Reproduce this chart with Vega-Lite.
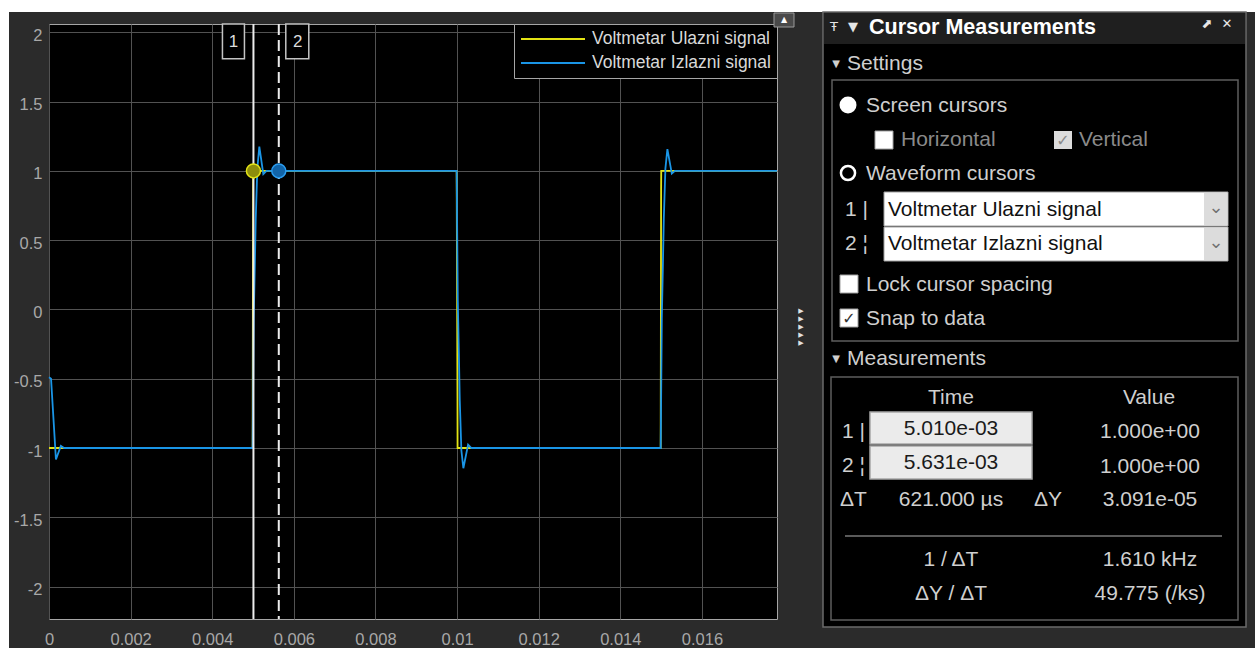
{
  "$schema": "https://vega.github.io/schema/vega-lite/v6.json",
  "background": "#2b2b2b",
  "padding": 0,
  "autosize": {"type": "pad"},
  "config": {"view": {"stroke": null}, "font": "Liberation Sans"},
  "spacing": 0,
  "bounds": "flush",
  "resolve": {"scale": {"color": "independent"}, "legend": {"color": "independent"}},
  "hconcat": [
    {
      "width": 9, "height": 648,
      "view": {"fill": "#ffffff", "stroke": null},
      "data": {"values": [{}]},
      "mark": {"type": "text", "text": ""},
      "encoding": {}
    },
    {
      "spacing": 12,
      "bounds": "flush",
      "resolve": {"scale": {"color": "independent"}, "legend": {"color": "independent"}},
      "vconcat": [
        {
          "width": 1246, "height": 12,
          "view": {"fill": "#ffffff", "stroke": null},
          "data": {"values": [{}]},
          "mark": {"type": "text", "text": ""},
          "encoding": {}
        },
        {
          "spacing": 39,
          "bounds": "flush",
          "resolve": {"scale": {"color": "independent"}, "legend": {"color": "independent"}},
          "hconcat": [
            {
              "width": 1, "height": 1,
              "view": {"stroke": null},
              "data": {"values": [{}]},
              "mark": {"type": "text", "text": ""},
              "encoding": {}
            },
            {
              "width": 728, "height": 595,
              "view": {"fill": "#000000", "stroke": "#a6a6a6", "strokeWidth": 1},
              "data": {"values": [
                {"signal": "Voltmetar Ulazni signal", "t": 0, "v": -1},
                {"signal": "Voltmetar Ulazni signal", "t": 0.00499, "v": -1},
                {"signal": "Voltmetar Ulazni signal", "t": 0.005, "v": 0.64},
                {"signal": "Voltmetar Ulazni signal", "t": 0.005003, "v": 1},
                {"signal": "Voltmetar Ulazni signal", "t": 0.00999, "v": 1},
                {"signal": "Voltmetar Ulazni signal", "t": 0.01001, "v": -0.64},
                {"signal": "Voltmetar Ulazni signal", "t": 0.010012, "v": -1},
                {"signal": "Voltmetar Ulazni signal", "t": 0.01499, "v": -1},
                {"signal": "Voltmetar Ulazni signal", "t": 0.015, "v": 0.87},
                {"signal": "Voltmetar Ulazni signal", "t": 0.015003, "v": 1},
                {"signal": "Voltmetar Ulazni signal", "t": 0.01784, "v": 1},
                {"signal": "Voltmetar Izlazni signal", "t": 0, "v": -0.49},
                {"signal": "Voltmetar Izlazni signal", "t": 0.00005, "v": -0.5},
                {"signal": "Voltmetar Izlazni signal", "t": 0.00017, "v": -1.083},
                {"signal": "Voltmetar Izlazni signal", "t": 0.00029, "v": -0.985},
                {"signal": "Voltmetar Izlazni signal", "t": 0.00037, "v": -1.0},
                {"signal": "Voltmetar Izlazni signal", "t": 0.00499, "v": -1.0},
                {"signal": "Voltmetar Izlazni signal", "t": 0.005017, "v": -0.067},
                {"signal": "Voltmetar Izlazni signal", "t": 0.005042, "v": 0.29},
                {"signal": "Voltmetar Izlazni signal", "t": 0.005066, "v": 0.655},
                {"signal": "Voltmetar Izlazni signal", "t": 0.005105, "v": 1.016},
                {"signal": "Voltmetar Izlazni signal", "t": 0.005154, "v": 1.175},
                {"signal": "Voltmetar Izlazni signal", "t": 0.005252, "v": 0.977},
                {"signal": "Voltmetar Izlazni signal", "t": 0.00533, "v": 1.0},
                {"signal": "Voltmetar Izlazni signal", "t": 0.00999, "v": 1.0},
                {"signal": "Voltmetar Izlazni signal", "t": 0.010017, "v": 0.067},
                {"signal": "Voltmetar Izlazni signal", "t": 0.010042, "v": -0.29},
                {"signal": "Voltmetar Izlazni signal", "t": 0.010066, "v": -0.655},
                {"signal": "Voltmetar Izlazni signal", "t": 0.010105, "v": -1.016},
                {"signal": "Voltmetar Izlazni signal", "t": 0.010154, "v": -1.146},
                {"signal": "Voltmetar Izlazni signal", "t": 0.01027, "v": -0.975},
                {"signal": "Voltmetar Izlazni signal", "t": 0.01035, "v": -1.0},
                {"signal": "Voltmetar Izlazni signal", "t": 0.01499, "v": -1.0},
                {"signal": "Voltmetar Izlazni signal", "t": 0.015017, "v": -0.067},
                {"signal": "Voltmetar Izlazni signal", "t": 0.015042, "v": 0.29},
                {"signal": "Voltmetar Izlazni signal", "t": 0.015066, "v": 0.655},
                {"signal": "Voltmetar Izlazni signal", "t": 0.015105, "v": 1.016},
                {"signal": "Voltmetar Izlazni signal", "t": 0.015154, "v": 1.157},
                {"signal": "Voltmetar Izlazni signal", "t": 0.015262, "v": 0.98},
                {"signal": "Voltmetar Izlazni signal", "t": 0.01534, "v": 1.0},
                {"signal": "Voltmetar Izlazni signal", "t": 0.01784, "v": 1.0}
              ]},
              "layer": [
                {
                  "transform": [{"filter": "datum.signal === 'Voltmetar Ulazni signal'"}],
                  "mark": {"type": "line", "strokeWidth": 1.8},
                  "encoding": {
                    "x": {"field": "t", "type": "quantitative",
                      "scale": {"domain": [0, 0.01784], "nice": false, "zero": false},
                      "axis": {"title": null, "values": [0, 0.002, 0.004, 0.006, 0.008, 0.01, 0.012, 0.014, 0.016],
                        "labelExpr": "toString(datum.value)", "grid": true, "gridColor": "#525252", "gridWidth": 1,
                        "domain": false, "ticks": false, "labelFlush": false, "labelOverlap": false,
                        "labelColor": "#a8a8a8", "labelFontSize": 16.5, "labelFont": "Liberation Sans", "labelPadding": 12}},
                    "y": {"field": "v", "type": "quantitative",
                      "scale": {"domain": [-2.234, 2.06], "nice": false, "zero": false},
                      "axis": {"title": null, "values": [-2, -1.5, -1, -0.5, 0, 0.5, 1, 1.5, 2],
                        "labelExpr": "toString(datum.value)", "grid": true, "gridColor": "#525252", "gridWidth": 1,
                        "domain": false, "ticks": false, "labelFlush": false, "labelOverlap": false,
                        "labelColor": "#a8a8a8", "labelFontSize": 16.5, "labelFont": "Liberation Sans", "labelPadding": 7, "labelOffset": 3}},
                    "color": {"field": "signal", "type": "nominal",
                      "scale": {"domain": ["Voltmetar Ulazni signal", "Voltmetar Izlazni signal"], "range": ["#e3e314", "#1a95e6"]},
                      "legend": {"title": null, "orient": "top-right", "offset": 0, "fillColor": "#000000", "strokeColor": "#a6a6a6",
                        "padding": 6, "symbolType": "M-4,0H4", "symbolSize": 256, "symbolOffset": 24, "symbolStrokeWidth": 1.8,
                        "labelFontSize": 17.5, "labelColor": "#d9d9d9", "labelFont": "Liberation Sans", "labelOffset": 30,
                        "labelLimit": 400, "rowPadding": 6}}
                  }
                },
                {
                  "transform": [{"filter": "datum.signal === 'Voltmetar Izlazni signal'"}],
                  "mark": {"type": "line", "strokeWidth": 1.8},
                  "encoding": {
                    "x": {"field": "t", "type": "quantitative"},
                    "y": {"field": "v", "type": "quantitative"},
                    "color": {"field": "signal", "type": "nominal"}
                  }
                },
                {
                  "data": {"values": [{"t": 0.00501}]},
                  "mark": {"type": "rule", "color": "#ececec", "strokeWidth": 2},
                  "encoding": {"x": {"field": "t", "type": "quantitative"}}
                },
                {
                  "data": {"values": [{"t": 0.005631}]},
                  "mark": {"type": "rule", "color": "#ececec", "strokeWidth": 2, "strokeDash": [11, 5]},
                  "encoding": {"x": {"field": "t", "type": "quantitative"}}
                },
                {
                  "data": {"values": [{"t": 0.00501, "v": 1.0}]},
                  "mark": {"type": "point", "shape": "circle", "size": 196, "fill": "#8d8d0c", "stroke": "#e3e314", "strokeWidth": 1.5, "fillOpacity": 1, "opacity": 1},
                  "encoding": {"x": {"field": "t", "type": "quantitative"}, "y": {"field": "v", "type": "quantitative"}}
                },
                {
                  "data": {"values": [{"t": 0.005631, "v": 1.0}]},
                  "mark": {"type": "point", "shape": "circle", "size": 196, "fill": "#1264a8", "stroke": "#2a9cf0", "strokeWidth": 1.5, "fillOpacity": 1, "opacity": 1},
                  "encoding": {"x": {"field": "t", "type": "quantitative"}, "y": {"field": "v", "type": "quantitative"}}
                },
                {
                  "data": {"values": [{"t": 0.00501, "label": "1"}]},
                  "mark": {"type": "rect", "fill": "#000000", "stroke": "#c4c4c4", "strokeWidth": 1.5, "xOffset": -31, "x2Offset": -9},
                  "encoding": {"x": {"field": "t", "type": "quantitative"}, "x2": {"field": "t"}, "y": {"datum": 2.06}, "y2": {"datum": 1.81}}
                },
                {
                  "data": {"values": [{"t": 0.005631, "label": "2"}]},
                  "mark": {"type": "rect", "fill": "#000000", "stroke": "#c4c4c4", "strokeWidth": 1.5, "xOffset": 7, "x2Offset": 30},
                  "encoding": {"x": {"field": "t", "type": "quantitative"}, "x2": {"field": "t"}, "y": {"datum": 2.06}, "y2": {"datum": 1.81}}
                },
                {
                  "data": {"values": [{"t": 0.00501, "label": "1"}]},
                  "mark": {"type": "text", "dx": -20, "fontSize": 17, "color": "#dcdcdc", "font": "Liberation Sans"},
                  "encoding": {"x": {"field": "t", "type": "quantitative"}, "y": {"datum": 1.93}, "text": {"field": "label"}}
                },
                {
                  "data": {"values": [{"t": 0.005631, "label": "2"}]},
                  "mark": {"type": "text", "dx": 19, "fontSize": 17, "color": "#dcdcdc", "font": "Liberation Sans"},
                  "encoding": {"x": {"field": "t", "type": "quantitative"}, "y": {"datum": 1.93}, "text": {"field": "label"}}
                }
              ]
            },
            {
              "width": 431, "height": 603,
              "view": {"stroke": null},
              "encoding": {
                "x": {"field": "x", "type": "quantitative", "scale": {"domain": [-6, 425], "nice": false, "zero": false}, "axis": null},
                "y": {"field": "y", "type": "quantitative", "scale": {"domain": [12, 615], "nice": false, "zero": false, "reverse": true}, "axis": null}
              },
              "layer": [
                {
                  "data": {"values": [{"x": 1, "x2": 424, "y": 0, "y2": 615}]},
                  "mark": {"type": "rect", "fill": "#000000", "stroke": "#6b6b6b", "strokeWidth": 1.5},
                  "encoding": {"x2": {"field": "x2"}, "y2": {"field": "y2"}}
                },
                {
                  "data": {"values": [{"x": 2, "x2": 423, "y": 1, "y2": 32}]},
                  "mark": {"type": "rect", "fill": "#1f1f1f"},
                  "encoding": {"x2": {"field": "x2"}, "y2": {"field": "y2"}}
                },
                {
                  "data": {"values": [{"x": 10, "x2": 416, "y": 68, "y2": 329}, {"x": 9, "x2": 416, "y": 365, "y2": 608}]},
                  "mark": {"type": "rect", "fill": "#000000", "stroke": "#5e5e5e", "strokeWidth": 1.5},
                  "encoding": {"x2": {"field": "x2"}, "y2": {"field": "y2"}}
                },
                {
                  "data": {"values": [
                    {"x": 62, "x2": 406, "y": 180, "y2": 214},
                    {"x": 62, "x2": 406, "y": 215, "y2": 249},
                    {"x": 18, "x2": 36, "y": 263, "y2": 281},
                    {"x": 18, "x2": 36, "y": 297, "y2": 315},
                    {"x": 53, "x2": 71, "y": 119, "y2": 137}
                  ]},
                  "mark": {"type": "rect", "fill": "#ffffff", "stroke": "#a0a0a0", "strokeWidth": 1},
                  "encoding": {"x2": {"field": "x2"}, "y2": {"field": "y2"}}
                },
                {
                  "data": {"values": [
                    {"x": 382, "x2": 405, "y": 181, "y2": 213},
                    {"x": 382, "x2": 405, "y": 216, "y2": 248},
                    {"x": 232, "x2": 250, "y": 119, "y2": 137}
                  ]},
                  "mark": {"type": "rect", "fill": "#dcdcdc"},
                  "encoding": {"x2": {"field": "x2"}, "y2": {"field": "y2"}}
                },
                {
                  "data": {"values": [
                    {"x": 48, "x2": 210, "y": 400, "y2": 432},
                    {"x": 48, "x2": 210, "y": 434, "y2": 467}
                  ]},
                  "mark": {"type": "rect", "fill": "#ebebeb", "stroke": "#a8a8a8", "strokeWidth": 1.5},
                  "encoding": {"x2": {"field": "x2"}, "y2": {"field": "y2"}}
                },
                {
                  "data": {"values": [{"x": 23, "x2": 400, "y": 524}]},
                  "mark": {"type": "rule", "color": "#b4b4b4", "strokeWidth": 1.2},
                  "encoding": {"x2": {"field": "x2"}}
                },
                {
                  "data": {"values": [{"x": 26, "y": 93}]},
                  "mark": {"type": "point", "shape": "circle", "size": 289, "filled": true, "color": "#ffffff", "opacity": 1}
                },
                {
                  "data": {"values": [{"x": 26, "y": 161}]},
                  "mark": {"type": "point", "shape": "circle", "size": 200, "filled": false, "color": "#ffffff", "strokeWidth": 2.5, "opacity": 1}
                },
                {
                  "data": {"values": [
                    {"x": 25, "y": 52, "label": "Settings"},
                    {"x": 44, "y": 94, "label": "Screen cursors"},
                    {"x": 44, "y": 162, "label": "Waveform cursors"},
                    {"x": 23, "y": 198, "label": "1 |"},
                    {"x": 23, "y": 232, "label": "2 ¦"},
                    {"x": 44, "y": 273, "label": "Lock cursor spacing"},
                    {"x": 44, "y": 307, "label": "Snap to data"},
                    {"x": 25, "y": 347, "label": "Measurements"},
                    {"x": 20, "y": 420, "label": "1 |"},
                    {"x": 20, "y": 454, "label": "2 ¦"},
                    {"x": 18, "y": 488, "label": "ΔT"},
                    {"x": 212, "y": 488, "label": "ΔY"}
                  ]},
                  "mark": {"type": "text", "align": "left", "baseline": "middle", "fontSize": 21, "color": "#cfcfcf", "font": "Liberation Sans"},
                  "encoding": {"text": {"field": "label"}}
                },
                {
                  "data": {"values": [
                    {"x": 129, "y": 386, "label": "Time"},
                    {"x": 327, "y": 386, "label": "Value"},
                    {"x": 328, "y": 420, "label": "1.000e+00"},
                    {"x": 328, "y": 455, "label": "1.000e+00"},
                    {"x": 129, "y": 488, "label": "621.000 µs"},
                    {"x": 328, "y": 488, "label": "3.091e-05"},
                    {"x": 129, "y": 548, "label": "1 / ΔT"},
                    {"x": 328, "y": 548, "label": "1.610 kHz"},
                    {"x": 129, "y": 582, "label": "ΔY / ΔT"},
                    {"x": 328, "y": 582, "label": "49.775 (/ks)"}
                  ]},
                  "mark": {"type": "text", "align": "center", "baseline": "middle", "fontSize": 21, "color": "#cfcfcf", "font": "Liberation Sans"},
                  "encoding": {"text": {"field": "label"}}
                },
                {
                  "data": {"values": [
                    {"x": 79, "y": 128, "label": "Horizontal"},
                    {"x": 257, "y": 128, "label": "Vertical"}
                  ]},
                  "mark": {"type": "text", "align": "left", "baseline": "middle", "fontSize": 21, "color": "#8a8a8a", "font": "Liberation Sans"},
                  "encoding": {"text": {"field": "label"}}
                },
                {
                  "data": {"values": [
                    {"x": 66, "y": 198, "label": "Voltmetar Ulazni signal"},
                    {"x": 66, "y": 232, "label": "Voltmetar Izlazni signal"}
                  ]},
                  "mark": {"type": "text", "align": "left", "baseline": "middle", "fontSize": 21, "color": "#111111", "font": "Liberation Sans"},
                  "encoding": {"text": {"field": "label"}}
                },
                {
                  "data": {"values": [
                    {"x": 129, "y": 417, "label": "5.010e-03"},
                    {"x": 129, "y": 451, "label": "5.631e-03"}
                  ]},
                  "mark": {"type": "text", "align": "center", "baseline": "middle", "fontSize": 21, "color": "#1a1a1a", "font": "Liberation Sans"},
                  "encoding": {"text": {"field": "label"}}
                },
                {
                  "data": {"values": [{"x": 47, "y": 16, "label": "Cursor Measurements"}]},
                  "mark": {"type": "text", "align": "left", "baseline": "middle", "fontSize": 21.5, "fontWeight": "bold", "color": "#ffffff", "font": "Liberation Sans"},
                  "encoding": {"text": {"field": "label"}}
                },
                {
                  "data": {"values": [
                    {"x": 12, "y": 15, "label": "Ŧ"},
                    {"x": 31, "y": 15, "label": "▼"},
                    {"x": 385, "y": 12, "label": "⬈"},
                    {"x": 405, "y": 12, "label": "✕"}
                  ]},
                  "mark": {"type": "text", "align": "center", "baseline": "middle", "fontSize": 13, "color": "#e6e6e6", "font": "DejaVu Sans"},
                  "encoding": {"text": {"field": "label"}}
                },
                {
                  "data": {"values": [
                    {"x": 14, "y": 52, "label": "▼"},
                    {"x": 14, "y": 347, "label": "▼"}
                  ]},
                  "mark": {"type": "text", "align": "center", "baseline": "middle", "fontSize": 10, "color": "#cfcfcf", "font": "DejaVu Sans"},
                  "encoding": {"text": {"field": "label"}}
                },
                {
                  "data": {"values": [{"x": 241, "y": 129, "label": "✓"}]},
                  "mark": {"type": "text", "align": "center", "baseline": "middle", "fontSize": 16, "color": "#8a8a8a", "font": "DejaVu Sans"},
                  "encoding": {"text": {"field": "label"}}
                },
                {
                  "data": {"values": [{"x": 27, "y": 307, "label": "✓"}]},
                  "mark": {"type": "text", "align": "center", "baseline": "middle", "fontSize": 16, "color": "#333333", "font": "DejaVu Sans"},
                  "encoding": {"text": {"field": "label"}}
                },
                {
                  "data": {"values": [
                    {"x": 394, "y": 196, "label": "⌄"},
                    {"x": 394, "y": 231, "label": "⌄"}
                  ]},
                  "mark": {"type": "text", "align": "center", "baseline": "middle", "fontSize": 18, "color": "#707070", "font": "DejaVu Sans"},
                  "encoding": {"text": {"field": "label"}}
                },
                {
                  "data": {"values": [
                    {"x": -21, "y": 299, "label": "▶"},
                    {"x": -21, "y": 307, "label": "▶"},
                    {"x": -21, "y": 315, "label": "▶"},
                    {"x": -21, "y": 323, "label": "▶"},
                    {"x": -21, "y": 331, "label": "▶"}
                  ]},
                  "mark": {"type": "text", "align": "center", "baseline": "middle", "fontSize": 7, "color": "#e0e0e0", "font": "DejaVu Sans"},
                  "encoding": {"text": {"field": "label"}}
                },
                {
                  "data": {"values": [{"x": -48, "x2": -28, "y": 1, "y2": 15}]},
                  "mark": {"type": "rect", "fill": "#4a4a4a", "stroke": "#9a9a9a", "strokeWidth": 1},
                  "encoding": {"x2": {"field": "x2"}, "y2": {"field": "y2"}}
                },
                {
                  "data": {"values": [{"x": -38, "y": 8, "label": "▲"}]},
                  "mark": {"type": "text", "align": "center", "baseline": "middle", "fontSize": 8, "color": "#ffffff", "font": "DejaVu Sans"},
                  "encoding": {"text": {"field": "label"}}
                }
              ]
            }
          ]
        }
      ]
    }
  ]
}
